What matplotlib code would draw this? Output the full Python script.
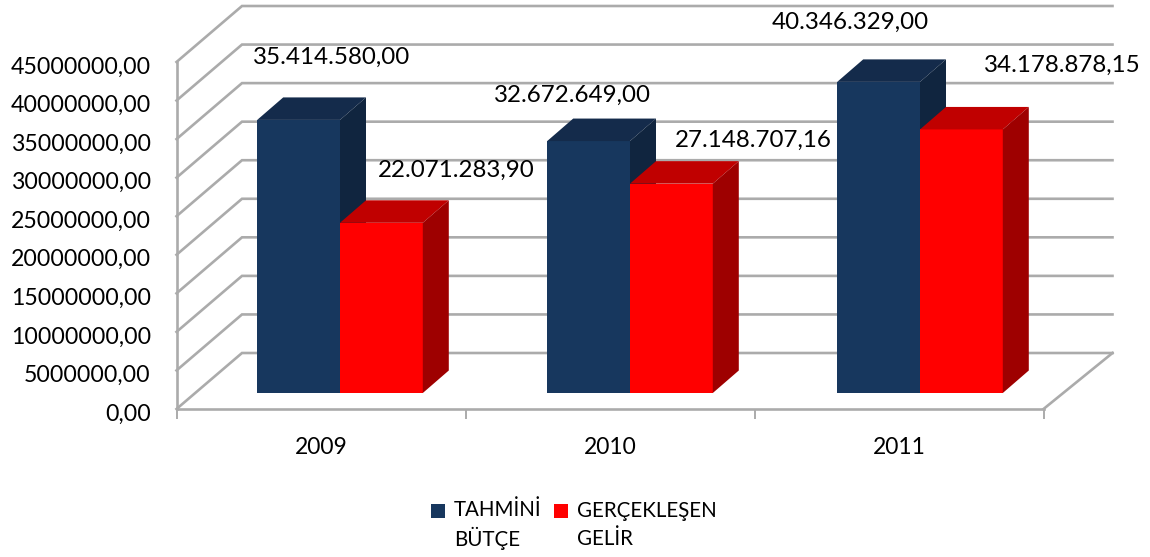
import matplotlib
matplotlib.use("Agg")
import matplotlib.pyplot as plt
from matplotlib.patches import Polygon, Patch, Rectangle
from matplotlib.legend_handler import HandlerPatch
from matplotlib.transforms import Affine2D, IdentityTransform

plt.rcParams['font.family'] = ['Lato', 'DejaVu Sans']

years = ['2009', '2010', '2011']
budget = [35414580.00, 32672649.00, 40346329.00]
income = [22071283.90, 27148707.16, 34178878.15]
budget_labels = ['35.414.580,00', '32.672.649,00', '40.346.329,00']
income_labels = ['22.071.283,90', '27.148.707,16', '34.178.878,15']
y_ticks = [0, 5000000, 10000000, 15000000, 20000000, 25000000, 30000000, 35000000, 40000000, 45000000]
y_labels = ['0,00', '5000000,00', '10000000,00', '15000000,00', '20000000,00',
            '25000000,00', '30000000,00', '35000000,00', '40000000,00', '45000000,00']
series_names = ['TAHMİNİ\nBÜTÇE', 'GERÇEKLEŞEN\nGELİR']

W, H = 1150, 557
fig = plt.figure(figsize=(W / 100, H / 100), dpi=100)
L, R, T, B = 176.5, 1043.5, 62, 409
ax = fig.add_axes([L / W, 1 - B / H, (R - L) / W, (B - T) / H])
ax.set_xlim(-0.5, 2.5)
ax.set_ylim(0, 45000000)
ax.patch.set_visible(False)

GRID = '#ABABAB'
GRID_W = 1.9
for s in ['top', 'right']:
    ax.spines[s].set_visible(False)
for s in ['left', 'bottom']:
    ax.spines[s].set_color(GRID)
    ax.spines[s].set_linewidth(GRID_W)

ax.set_yticks(y_ticks, y_labels, fontsize=16.7, color='black')
ax.set_xticks(range(3), years, fontsize=16.5, color='black')
ax.set_xticks([-0.5, 0.5, 1.5, 2.5], minor=True)
ax.tick_params(axis='y', length=0, pad=18.5)
ax.tick_params(axis='x', which='major', length=0, pad=20.5)
ax.tick_params(axis='x', which='minor', length=7, width=1.4, color=GRID)
for lab in ax.get_yticklabels():
    lab.set_transform(lab.get_transform() + Affine2D().translate(0, -3))

# Back wall and floor perspective, in display pixels
DEPTH_L, DEPTH_R, DEPTH_Y = 65.5, 69, 56
for v in y_ticks:
    x0, y0 = ax.transData.transform((-0.5, v))
    x1, y1 = ax.transData.transform((2.5, v))
    xs = [x0, x0 + DEPTH_L, x1 + DEPTH_R]
    ys = [y0, y0 + DEPTH_Y, y0 + DEPTH_Y]
    ax.plot(xs, ys, color=GRID, lw=GRID_W, transform=IdentityTransform(), clip_on=False,
            solid_joinstyle='miter', zorder=1)
x1, y1 = ax.transData.transform((2.5, 0))
ax.plot([x1, x1 + DEPTH_R], [y1, y1 + DEPTH_Y], color=GRID, lw=GRID_W,
        transform=IdentityTransform(), clip_on=False, zorder=1)

# Bars sit inside the 3D floor: front faces shifted from the axis plane
bar_shift = Affine2D().translate(-L, 0).scale(290 / 289, 1).translate(L + 18.5, 16)
bar_tf = ax.transData + bar_shift
BAR_W = 0.2855
BAR_DX, BAR_DY = 26, 22.5


def box(x, val, front, top, side, z):
    ax.bar([x], [val], width=BAR_W, color=front, transform=bar_tf, zorder=z, clip_on=False)
    (xa, ya), (xb, yb) = bar_tf.transform([(x - BAR_W / 2, val), (x + BAR_W / 2, 0)])
    ax.add_patch(Polygon([(xa, ya), (xb, ya), (xb + BAR_DX, ya + BAR_DY), (xa + BAR_DX, ya + BAR_DY)],
                         closed=True, fc=top, ec='none', transform=IdentityTransform(),
                         clip_on=False, zorder=z))
    ax.add_patch(Polygon([(xb, yb), (xb, ya), (xb + BAR_DX, ya + BAR_DY), (xb + BAR_DX, yb + BAR_DY)],
                         closed=True, fc=side, ec='none', transform=IdentityTransform(),
                         clip_on=False, zorder=z))


NAVY = ('#17375E', '#142B4B', '#10253F')
RED = ('#FF0000', '#C00000', '#9E0000')
for i in range(3):
    box(i - BAR_W / 2, budget[i], *NAVY, z=3 + 2 * i)
    box(i + BAR_W / 2, income[i], *RED, z=4 + 2 * i)

# Data labels, placed as in the reference (pixel centres)
budget_pos = [(332, 57), (572, 95), (850, 22)]
income_pos = [(456, 170), (753, 140), (1062, 65)]
for txt, (px, py) in zip(budget_labels + income_labels, budget_pos + income_pos):
    fig.text(px / W, 1 - py / H, txt, ha='center', va='center', fontsize=17.4, color='black', zorder=20)


def raised_swatch(legend, orig_handle, xdescent, ydescent, width, height, fontsize):
    return Rectangle((-xdescent, -ydescent + 10.8), width, height)


handles = [Patch(fc=NAVY[0], ec='none'), Patch(fc=RED[0], ec='none')]
leg = fig.legend(handles, series_names, ncol=2, loc='center left', bbox_to_anchor=(431 / W, 1 - 525 / H),
                 frameon=False, fontsize=14.8, handlelength=0.68, handleheight=0.68,
                 handletextpad=0.44, columnspacing=0.58, borderpad=0, borderaxespad=0,
                 handler_map={Patch: HandlerPatch(patch_func=raised_swatch)})
for t, spacing in zip(leg.get_texts(), [1.35, 1.55]):
    t.set_linespacing(spacing)

fig.savefig('out.png', dpi=100)
